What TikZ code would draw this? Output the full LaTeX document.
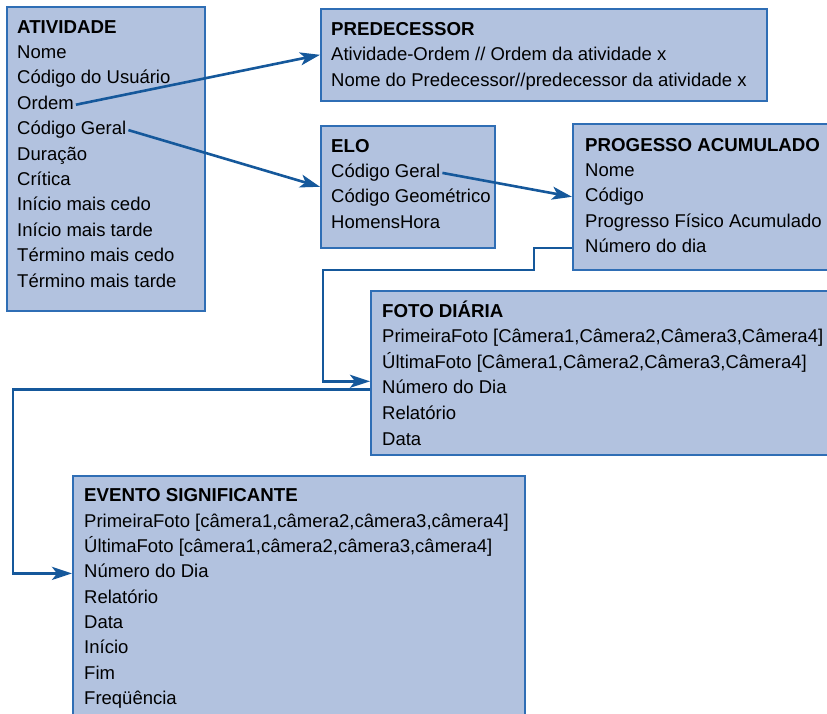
\documentclass[tikz,border=0pt]{standalone}
\usepackage{fontspec}
\setmainfont{Liberation Sans}
\usetikzlibrary{arrows.meta}

\definecolor{boxfill}{HTML}{B2C2DF}
\definecolor{boxline}{HTML}{2F6EB5}
\definecolor{linkblue}{HTML}{15589B}

\tikzset{
    table/.style={draw=boxline, fill=boxfill, line width=1.6pt, anchor=north west, inner sep=0pt},
    title/.style={anchor=base west, inner sep=2pt, font=\fontsize{18.7}{22}\selectfont\bfseries},
    row/.style={anchor=base west, inner sep=2pt, text height=13pt, text depth=4pt, font=\fontsize{18.5}{22}\selectfont},
    link/.style={draw=linkblue, line width=2.6pt, -{Stealth[length=20pt,width=13pt,inset=5pt]}},
}

\begin{document}
\begin{tikzpicture}[x=1pt, y=-1pt]
        \useasboundingbox (0,0) rectangle (827,713);
        \clip (0,0) rectangle (827,713);

        \begin{scope}[shift={(6,6)}]
            \node[table, minimum width=198pt, minimum height=304pt] (atv) at (0,0) {};
            \node[title] at (9,27) {ATIVIDADE};
            \foreach \txt [count=\i] in {Nome, Código do Usuário, Ordem, Código Geral, Duração, Crítica, Início mais cedo, Início mais tarde, Término mais cedo, Término mais tarde}
                \node[row] (atv-\i) at (9,27+25.4*\i) {\txt};
        \end{scope}

        \begin{scope}[shift={(320,8)}]
            \node[table, minimum width=446pt, minimum height=92pt] (pred) at (0,0) {};
            \node[title] at (9,27) {PREDECESSOR};
            \foreach \txt [count=\i] in {Atividade-Ordem // Ordem da atividade x, Nome do Predecessor//predecessor da atividade x}
                \node[row] (pred-\i) at (9,27+25.6*\i) {\txt};
        \end{scope}

        \begin{scope}[shift={(320,125)}]
            \node[table, minimum width=174pt, minimum height=122pt] (elo) at (0,0) {};
            \node[title] at (9,27) {ELO};
            \foreach \txt [count=\i] in {Código Geral, Código Geométrico, HomensHora}
                \node[row] (elo-\i) at (9,27+25.4*\i) {\txt};
        \end{scope}

        \begin{scope}[shift={(572,123)}]
            \node[table, minimum width=270pt, minimum height=146pt] (prog) at (0,0) {};
            \node[title] at (11,28) {PROGESSO ACUMULADO};
            \foreach \txt [count=\i] in {Nome, Código, Progresso Físico Acumulado, Número do dia}
                \node[row] (prog-\i) at (11,28+25.4*\i) {\txt};
        \end{scope}

        \begin{scope}[shift={(370,290)}]
            \node[table, minimum width=470pt, minimum height=164pt] (foto) at (0,0) {};
            \node[title] at (10,27) {FOTO DIÁRIA};
            \foreach \txt [count=\i] in {{PrimeiraFoto [Câmera1,Câmera2,Câmera3,Câmera4]}, {ÚltimaFoto [Câmera1,Câmera2,Câmera3,Câmera4]}, Número do Dia, Relatório, Data}
                \node[row] (foto-\i) at (10,27+25.6*\i) {\txt};
        \end{scope}

        \begin{scope}[shift={(72,475)}]
            \node[table, minimum width=452pt, minimum height=250pt] (evt) at (0,0) {};
            \node[title] at (10,26) {EVENTO SIGNIFICANTE};
            \foreach \txt [count=\i] in {{PrimeiraFoto [câmera1,câmera2,câmera3,câmera4]}, {ÚltimaFoto [câmera1,câmera2,câmera3,câmera4]}, Número do Dia, Relatório, Data, Início, Fim, Freqüência}
                \node[row] (evt-\i) at (10,27+25.3*\i) {\txt};
        \end{scope}

        \coordinate (bend1) at (323,270);
        \coordinate (rail) at (13,0);

        \draw[link] (atv-3.east) -- (pred.west);
        \draw[link] (atv-4.east) -- (elo.west);
        \draw[link] (elo-1.east) -- (prog.west);
        \draw[link] (prog.west |- prog-4.east) -- ++(-38,0) |- (bend1) |- ([yshift=8pt]foto.west |- foto-3.east);
        \draw[link] (foto.west |- foto-3.east) -| (rail |- evt-3.east) -- (evt.west |- evt-3.east);
    \end{tikzpicture}
\end{document}
